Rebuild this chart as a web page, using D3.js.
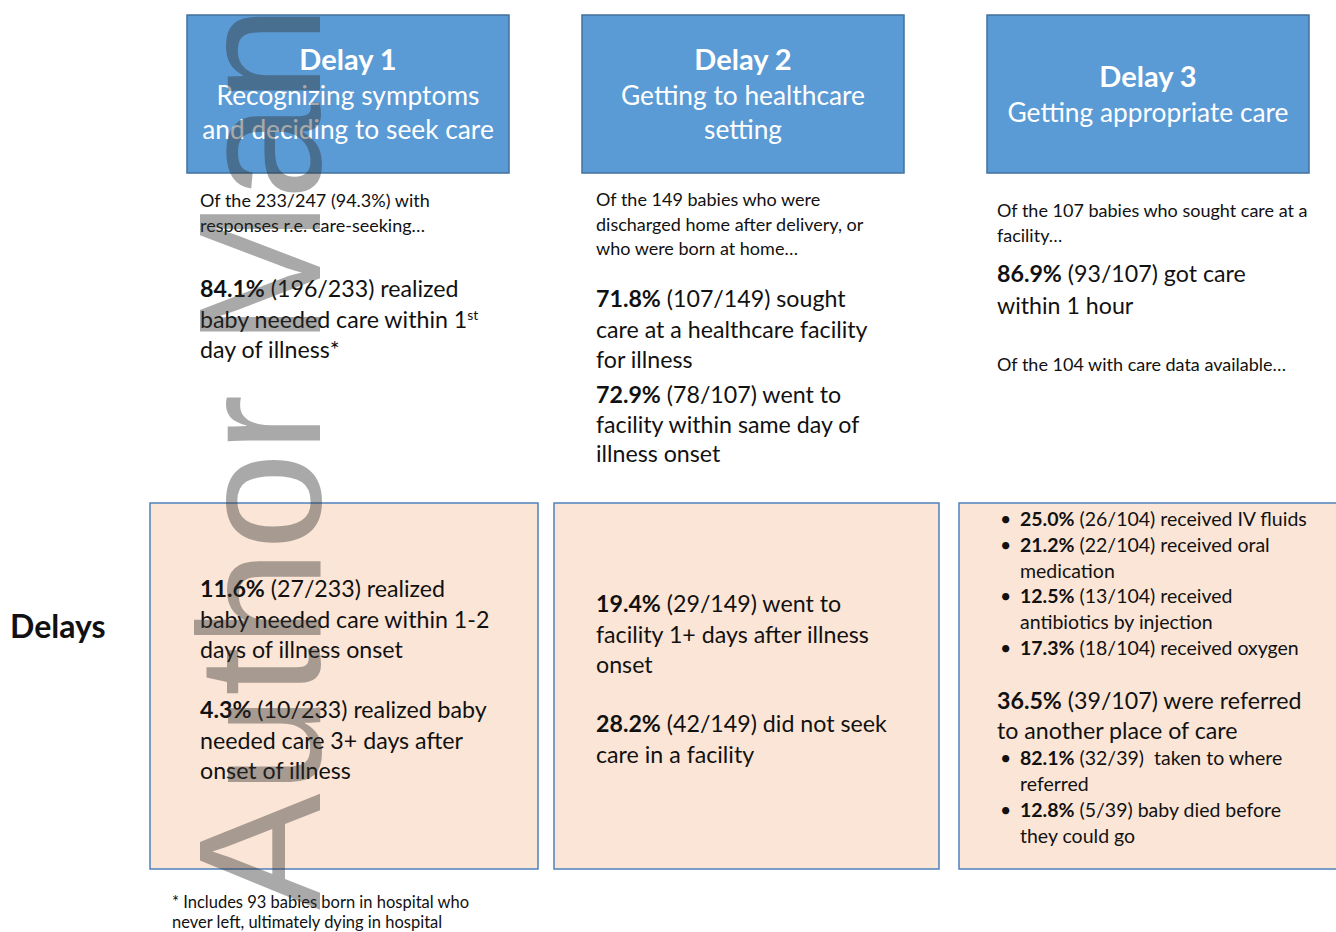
<!DOCTYPE html>
<html>
<head>
<meta charset="utf-8">
<script src="https://cdn.jsdelivr.net/npm/d3@7/dist/d3.min.js"></script>
<style>
  body { margin: 0; background: #fff; }
</style>
</head>
<body>
<div id="chart"></div>
<script>
// ---- data ----
const delayTitles = ["Delay 1", "Delay 2", "Delay 3"];
const delaySubtitles = [
    ["Recognizing symptoms", "and deciding to seek care"],
    ["Getting to healthcare", "setting"],
    ["Getting appropriate care"]
];
const introNotes = [
    ["Of the 233/247 (94.3%) with", "responses r.e. care-seeking…"],
    ["Of the 149 babies who were", "discharged home after delivery, or", "who were born at home…"],
    ["Of the 107 babies who sought care at a", "facility…"]
];
// col = delay column, pct / n / d = share, numerator, denominator
const upperFindings = [
    {col: 0, pct: 84.1, n: 196, d: 233, lines: ["realized", "baby needed care within 1^st", "day of illness*"]},
    {col: 1, pct: 71.8, n: 107, d: 149, lines: ["sought", "care at a healthcare facility", "for illness"]},
    {col: 1, pct: 72.9, n: 78, d: 107, lines: ["went to", "facility within same day of", "illness onset"]},
    {col: 2, pct: 86.9, n: 93, d: 107, lines: ["got care", "within 1 hour"]}
];
const lowerFindings = [
    {col: 0, pct: 11.6, n: 27, d: 233, lines: ["realized", "baby needed care within 1-2", "days of illness onset"]},
    {col: 0, pct: 4.3, n: 10, d: 233, lines: ["realized baby", "needed care 3+ days after", "onset of illness"]},
    {col: 1, pct: 19.4, n: 29, d: 149, lines: ["went to", "facility 1+ days after illness", "onset"]},
    {col: 1, pct: 28.2, n: 42, d: 149, lines: ["did not seek", "care in a facility"]}
];
const careNote = "Of the 104 with care data available…";
const careBullets = [
    {pct: 25.0, n: 26, d: 104, lines: ["received IV fluids"]},
    {pct: 21.2, n: 22, d: 104, lines: ["received oral", "medication"]},
    {pct: 12.5, n: 13, d: 104, lines: ["received", "antibiotics by injection"]},
    {pct: 17.3, n: 18, d: 104, lines: ["received oxygen"]}
];
const referral = {pct: 36.5, n: 39, d: 107, lines: ["were referred", "to another place of care"]};
const referralBullets = [
    {pct: 82.1, n: 32, d: 39, lines: [" taken to where", "referred"]},
    {pct: 12.8, n: 5, d: 39, lines: ["baby died before", "they could go"]}
];
const rowLabel = "Delays";
const footnote = ["* Includes 93 babies born in hospital who", "never left, ultimately dying in hospital"];
const watermark = "Author Manuscript";

window.onload = init;

const FONT = "Lato, 'Noto Sans', sans-serif";
const fmtPct = v => d3.format(".1f")(v) + "%";

// turns a finding into text lines with **bold** markup
function findingLines(f) {
    const first = "**" + fmtPct(f.pct) + "** (" + f.n + "/" + f.d + ") " + f.lines[0];
    return [first].concat(f.lines.slice(1));
}

// draws lines of text, supporting **bold** and ^sup pieces
function richText(g, x, y, lines, size, lh, color) {
    const t = g.append("text")
        .attr("x", x).attr("y", y)
        .attr("font-family", FONT)
        .attr("font-size", size)
        .attr("fill", color || "#111");
    lines.forEach((line, i) => {
        const parts = line.split(/(\*\*[^*]+\*\*|\^\w+)/).filter(p => p !== "");
        parts.forEach((p, j) => {
            const ts = t.append("tspan").attr("xml:space", "preserve");
            if (j === 0) ts.attr("x", x).attr("y", y + i * lh);
            if (p.startsWith("**")) {
                ts.attr("font-weight", "bold").text(p.slice(2, -2));
            } else if (p.startsWith("^")) {
                ts.attr("font-size", size * 0.6).attr("baseline-shift", "super").text(p.slice(1));
            } else {
                ts.text(p);
            }
        });
    });
    return t;
}

function init()
{
    const width = 1336;
    const height = 932;
    const svg = d3.select('#chart').append('svg').attr('width', width).attr('height', height);

    const headX = d3.scaleOrdinal().domain(d3.range(3)).range([187, 582, 987]);
    const headW = 322, headTop = 15, headH = 158;
    const textX = d3.scaleOrdinal().domain(d3.range(3)).range([200, 596, 997]);

    const lowX = d3.scaleOrdinal().domain(d3.range(3)).range([150, 554, 959]);
    const lowW = d3.scaleOrdinal().domain(d3.range(3)).range([388, 385, 390]);
    const lowTop = 503, lowH = 366;

    const bodySize = 23.2, noteSize = 18, bulletSize = 19.5;

    // header boxes
    const heads = svg.selectAll('g.head').data(delayTitles).enter().append('g').attr('class', 'head');
    heads.append('rect')
        .attr('x', (d, i) => headX(i)).attr('y', headTop)
        .attr('width', headW).attr('height', headH)
        .attr('fill', '#5b9bd5').attr('stroke', '#41719c').attr('stroke-width', 1.5);
    heads.each(function (d, i) {
        const g = d3.select(this);
        const cx = headX(i) + headW / 2;
        const n = delaySubtitles[i].length + 1;
        const lh = 34;
        const y0 = headTop + headH / 2 - (n - 1) * lh / 2 + 10;
        g.append('text').attr('x', cx).attr('y', y0)
            .attr('text-anchor', 'middle').attr('font-family', FONT)
            .attr('font-size', 29).attr('font-weight', 'bold').attr('fill', '#fff').text(d);
        delaySubtitles[i].forEach((s, k) => {
            g.append('text').attr('x', cx).attr('y', y0 + (k + 1) * lh + 1)
                .attr('text-anchor', 'middle').attr('font-family', FONT)
                .attr('font-size', 26.3).attr('fill', '#fff').text(s);
        });
    });

    // intro notes
    const introY = [207, 206, 217];
    introNotes.forEach((lines, i) => richText(svg, textX(i), introY[i], lines, noteSize, 24.5));

    // upper findings
    const upperY = [297, 307, 403, 282];
    const upperLH = [30.5, 30.5, 29.5, 32];
    upperFindings.forEach((f, i) => richText(svg, textX(f.col), upperY[i], findingLines(f), bodySize, upperLH[i]));

    richText(svg, textX(2), 371, [careNote], noteSize, 24);

    // lower boxes
    svg.selectAll('rect.low').data(d3.range(3)).enter().append('rect').attr('class', 'low')
        .attr('x', i => lowX(i)).attr('y', lowTop)
        .attr('width', i => lowW(i)).attr('height', lowH)
        .attr('fill', '#fbe5d6').attr('stroke', '#4f81bd').attr('stroke-width', 1.5);

    const lowerY = [597, 718, 612, 732];
    lowerFindings.forEach((f, i) => richText(svg, textX(f.col), lowerY[i], findingLines(f), bodySize, 30.5));

    // bullets in delay 3 box
    const bulletX = 1000, bulletTextX = 1020;
    function bulletList(list, y0, size, lh) {
        let y = y0;
        list.forEach(f => {
            svg.append('text').attr('x', bulletX).attr('y', y)
                .attr('font-family', FONT).attr('font-size', size).attr('fill', '#111').text('•');
            const lines = findingLines(f);
            richText(svg, bulletTextX, y, lines, size, lh);
            y += lines.length * lh;
        });
    }
    bulletList(careBullets, 526, bulletSize, 25.8);
    richText(svg, textX(2), 709, findingLines(referral), bodySize, 30);
    bulletList(referralBullets, 765, bulletSize, 26);

    // row label
    svg.append('text').attr('x', 10).attr('y', 638)
        .attr('font-family', FONT).attr('font-size', 32).attr('font-weight', 'bold')
        .attr('fill', '#111').text(rowLabel);

    // footnote
    richText(svg, 172, 908, footnote, 16.5, 19.5);

    // watermark on top
    svg.append('text')
        .attr('transform', 'translate(320,910) rotate(-90)')
        .attr('font-family', "'Liberation Sans', Arial, sans-serif")
        .attr('font-size', 175)
        .attr('fill', '#333')
        .attr('fill-opacity', 0.42)
        .text(watermark);
}
</script>
</body>
</html>
